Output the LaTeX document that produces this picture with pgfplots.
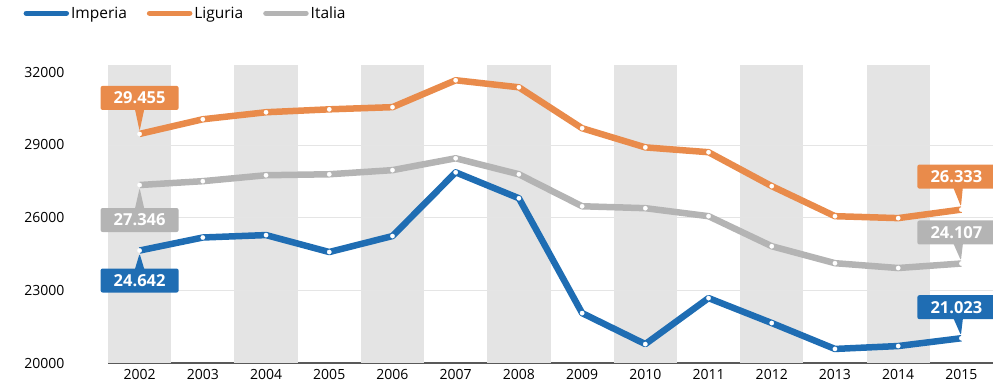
\documentclass[border=0pt]{standalone}
\usepackage{fontspec}
\setmainfont{Open Sans}
\usepackage{pgfplots}
\pgfplotsset{compat=1.18}
\usetikzlibrary{shapes.callouts}
\definecolor{cblue}{HTML}{1F6DB3}
\definecolor{corange}{HTML}{E98B4B}
\definecolor{cgray}{HTML}{B4B4B4}
\definecolor{band}{HTML}{E4E4E4}
\tikzset{
  call/.style={rectangle callout, rounded corners=2pt, text=white, font=\fontsize{16.5}{18}\selectfont\bfseries,
    minimum width=78pt, minimum height=24pt, inner sep=2pt, callout pointer width=9pt, callout pointer shorten=3pt}
}
\begin{document}
\begin{tikzpicture}[x=1pt,y=1pt]
\useasboundingbox (-108,-28) rectangle (885,363);
\begin{axis}[
  at={(0,0)}, anchor=south west,
  scale only axis, width=885pt, height=298pt,
  xmin=2001.5, xmax=2015.5, ymin=20000, ymax=32300,
  xtick={2002,2003,...,2015}, ytick={20000,23000,26000,29000,32000},
  scaled y ticks=false,
  yticklabel style={/pgf/number format/fixed, /pgf/number format/precision=0},
  /pgf/number format/1000 sep={}, /pgf/number format/assume math mode=true,
  tick label style={font=\fontsize{14}{16}\selectfont},
  xticklabel style={yshift=-3pt},
  yticklabel style={xshift=-40pt},
  major tick length=0pt,
  axis x line=bottom, axis y line=left,
  y axis line style={draw=none},
  x axis line style={draw=black!65, line width=1.6pt, -},
  clip=false,
  legend style={at={(-0.099,1.21)}, anchor=north west, draw=none, fill=none,
    font=\fontsize{15.5}{18}\selectfont, legend columns=3,
    /tikz/every even column/.append style={column sep=18pt}},
  legend image code/.code={\draw[#1, mark=none, line width=5.5pt, line cap=round] (0pt,0pt) -- (40pt,0pt);},
  every axis plot/.append style={line width=6.5pt, line join=round, mark=*, mark size=2.2pt,
    mark options={draw=white, fill=white, line width=0.2pt}},
]
\fill[band] (axis cs:2001.5,20000) rectangle (axis cs:2002.5,32300);
\fill[band] (axis cs:2003.5,20000) rectangle (axis cs:2004.5,32300);
\fill[band] (axis cs:2005.5,20000) rectangle (axis cs:2006.5,32300);
\fill[band] (axis cs:2007.5,20000) rectangle (axis cs:2008.5,32300);
\fill[band] (axis cs:2009.5,20000) rectangle (axis cs:2010.5,32300);
\fill[band] (axis cs:2011.5,20000) rectangle (axis cs:2012.5,32300);
\fill[band] (axis cs:2013.5,20000) rectangle (axis cs:2014.5,32300);
\draw[black!10, line width=0.7pt] (axis cs:2001.5,23000) -- (axis cs:2015.5,23000);
\draw[black!10, line width=0.7pt] (axis cs:2001.5,26000) -- (axis cs:2015.5,26000);
\draw[black!10, line width=0.7pt] (axis cs:2001.5,29000) -- (axis cs:2015.5,29000);

\addplot[cblue] coordinates {
(2002,24642) (2003,25180) (2004,25280) (2005,24580) (2006,25240) (2007,27870) (2008,26800)
(2009,22060) (2010,20780) (2011,22680) (2012,21650) (2013,20580) (2014,20700) (2015,21023)};
\addlegendentry{Imperia}
\addplot[corange] coordinates {
(2002,29455) (2003,30060) (2004,30350) (2005,30470) (2006,30560) (2007,31670) (2008,31380)
(2009,29690) (2010,28900) (2011,28700) (2012,27300) (2013,26060) (2014,25980) (2015,26333)};
\addlegendentry{Liguria}
\addplot[cgray] coordinates {
(2002,27346) (2003,27505) (2004,27750) (2005,27790) (2006,27960) (2007,28450) (2008,27790)
(2009,26470) (2010,26390) (2011,26060) (2012,24820) (2013,24120) (2014,23920) (2015,24107)};
\addlegendentry{Italia}

\node[call, fill=corange, callout absolute pointer={(axis cs:2002,29455)}] at ([yshift=36pt]axis cs:2002,29455) {29.455};
\node[call, fill=cgray, callout absolute pointer={(axis cs:2002,27346)}] at ([yshift=-35pt]axis cs:2002,27346) {27.346};
\node[call, fill=cblue, callout absolute pointer={(axis cs:2002,24642)}] at ([yshift=-30pt]axis cs:2002,24642) {24.642};
\node[call, fill=corange, callout absolute pointer={(axis cs:2015,26333)}] at ([xshift=-5pt,yshift=33pt]axis cs:2015,26333) {26.333};
\node[call, fill=cgray, callout absolute pointer={(axis cs:2015,24107)}] at ([xshift=-5pt,yshift=31pt]axis cs:2015,24107) {24.107};
\node[call, fill=cblue, callout absolute pointer={(axis cs:2015,21023)}] at ([xshift=-5pt,yshift=31pt]axis cs:2015,21023) {21.023};
\end{axis}
\end{tikzpicture}
\end{document}
